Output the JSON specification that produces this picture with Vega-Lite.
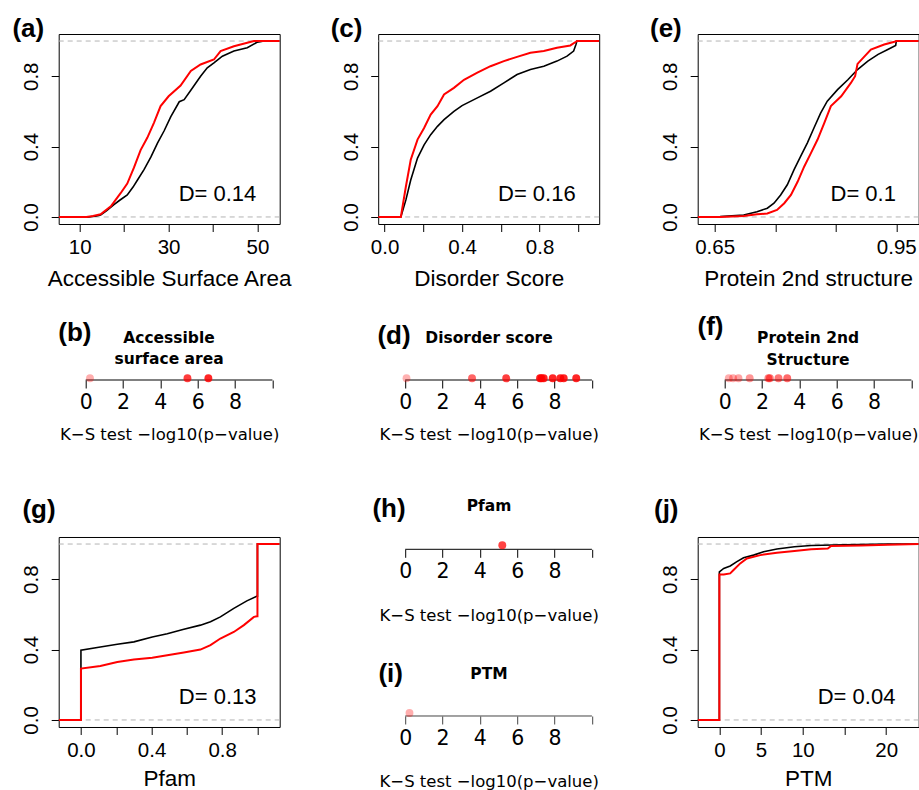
{
  "$schema": "https://vega.github.io/schema/vega-lite/v6.json",
  "background": "white",
  "padding": {"left": 11.7, "top": 15, "right": 0, "bottom": 0},
  "columns": 3,
  "spacing": {"row": 76, "column": 98.5},
  "bounds": "flush",
  "datasets": {
    "cdf_asa": [
      {"set":"background","x":5.27,"F":0},{"set":"background","x":12,"F":0},{"set":"background","x":13.5,"F":0.005},{"set":"background","x":14.7,"F":0.011},{"set":"background","x":16,"F":0.035},{"set":"background","x":17.7,"F":0.07},{"set":"background","x":19,"F":0.095},{"set":"background","x":20.7,"F":0.125},{"set":"background","x":22,"F":0.17},{"set":"background","x":23,"F":0.21},{"set":"background","x":24.5,"F":0.27},{"set":"background","x":26,"F":0.34},{"set":"background","x":27.5,"F":0.42},{"set":"background","x":29,"F":0.49},{"set":"background","x":30.5,"F":0.57},{"set":"background","x":32.4,"F":0.655},{"set":"background","x":33.5,"F":0.667},{"set":"background","x":35,"F":0.72},{"set":"background","x":37.2,"F":0.8},{"set":"background","x":38.7,"F":0.848},{"set":"background","x":40.2,"F":0.876},{"set":"background","x":42.1,"F":0.914},{"set":"background","x":44.7,"F":0.943},{"set":"background","x":47.7,"F":0.962},{"set":"background","x":50,"F":0.994},{"set":"background","x":51.5,"F":1},{"set":"background","x":55,"F":1},
      {"set":"target","x":5.27,"F":0},{"set":"target","x":11.5,"F":0},{"set":"target","x":13,"F":0.005},{"set":"target","x":14.7,"F":0.015},{"set":"target","x":17,"F":0.06},{"set":"target","x":19.2,"F":0.135},{"set":"target","x":20.7,"F":0.19},{"set":"target","x":22.2,"F":0.28},{"set":"target","x":23.7,"F":0.38},{"set":"target","x":25.2,"F":0.45},{"set":"target","x":26.7,"F":0.535},{"set":"target","x":28.2,"F":0.63},{"set":"target","x":30,"F":0.686},{"set":"target","x":32.7,"F":0.747},{"set":"target","x":35,"F":0.83},{"set":"target","x":37.2,"F":0.867},{"set":"target","x":40.2,"F":0.895},{"set":"target","x":41.7,"F":0.943},{"set":"target","x":44.7,"F":0.97},{"set":"target","x":47.7,"F":0.99},{"set":"target","x":49.2,"F":1},{"set":"target","x":55,"F":1}
    ],
    "cdf_dis": [
      {"set":"background","x":-0.033,"F":0},{"set":"background","x":0.084,"F":0},{"set":"background","x":0.11,"F":0.097},{"set":"background","x":0.135,"F":0.21},{"set":"background","x":0.17,"F":0.335},{"set":"background","x":0.204,"F":0.41},{"set":"background","x":0.238,"F":0.468},{"set":"background","x":0.273,"F":0.515},{"set":"background","x":0.307,"F":0.553},{"set":"background","x":0.358,"F":0.6},{"set":"background","x":0.4,"F":0.633},{"set":"background","x":0.479,"F":0.677},{"set":"background","x":0.547,"F":0.715},{"set":"background","x":0.616,"F":0.762},{"set":"background","x":0.684,"F":0.81},{"set":"background","x":0.753,"F":0.838},{"set":"background","x":0.822,"F":0.857},{"set":"background","x":0.89,"F":0.886},{"set":"background","x":0.942,"F":0.914},{"set":"background","x":0.976,"F":0.943},{"set":"background","x":0.988,"F":0.98},{"set":"background","x":0.993,"F":1},{"set":"background","x":1.108,"F":1},
      {"set":"target","x":-0.033,"F":0},{"set":"target","x":0.084,"F":0},{"set":"target","x":0.11,"F":0.173},{"set":"target","x":0.135,"F":0.325},{"set":"target","x":0.17,"F":0.44},{"set":"target","x":0.204,"F":0.506},{"set":"target","x":0.238,"F":0.582},{"set":"target","x":0.273,"F":0.63},{"set":"target","x":0.307,"F":0.696},{"set":"target","x":0.358,"F":0.734},{"set":"target","x":0.41,"F":0.78},{"set":"target","x":0.479,"F":0.82},{"set":"target","x":0.547,"F":0.857},{"set":"target","x":0.616,"F":0.886},{"set":"target","x":0.684,"F":0.91},{"set":"target","x":0.753,"F":0.933},{"set":"target","x":0.822,"F":0.943},{"set":"target","x":0.89,"F":0.962},{"set":"target","x":0.959,"F":0.975},{"set":"target","x":0.988,"F":0.996},{"set":"target","x":0.993,"F":1},{"set":"target","x":1.108,"F":1}
    ],
    "cdf_ss": [
      {"set":"background","x":0.622,"F":0},{"set":"background","x":0.64,"F":0},{"set":"background","x":0.659,"F":0.002},{"set":"background","x":0.698,"F":0.011},{"set":"background","x":0.72,"F":0.03},{"set":"background","x":0.737,"F":0.05},{"set":"background","x":0.748,"F":0.078},{"set":"background","x":0.759,"F":0.125},{"set":"background","x":0.77,"F":0.183},{"set":"background","x":0.781,"F":0.268},{"set":"background","x":0.792,"F":0.344},{"set":"background","x":0.803,"F":0.42},{"set":"background","x":0.814,"F":0.506},{"set":"background","x":0.825,"F":0.59},{"set":"background","x":0.836,"F":0.658},{"set":"background","x":0.853,"F":0.724},{"set":"background","x":0.87,"F":0.78},{"set":"background","x":0.886,"F":0.838},{"set":"background","x":0.903,"F":0.886},{"set":"background","x":0.92,"F":0.924},{"set":"background","x":0.936,"F":0.952},{"set":"background","x":0.949,"F":0.975},{"set":"background","x":0.95,"F":1},{"set":"background","x":0.987,"F":1},
      {"set":"target","x":0.622,"F":0},{"set":"target","x":0.659,"F":0},{"set":"target","x":0.698,"F":0.006},{"set":"target","x":0.72,"F":0.015},{"set":"target","x":0.737,"F":0.02},{"set":"target","x":0.753,"F":0.04},{"set":"target","x":0.765,"F":0.078},{"set":"target","x":0.776,"F":0.125},{"set":"target","x":0.787,"F":0.2},{"set":"target","x":0.798,"F":0.287},{"set":"target","x":0.809,"F":0.363},{"set":"target","x":0.82,"F":0.44},{"set":"target","x":0.831,"F":0.534},{"set":"target","x":0.842,"F":0.63},{"set":"target","x":0.859,"F":0.686},{"set":"target","x":0.875,"F":0.762},{"set":"target","x":0.882,"F":0.8},{"set":"target","x":0.886,"F":0.87},{"set":"target","x":0.908,"F":0.952},{"set":"target","x":0.93,"F":0.98},{"set":"target","x":0.947,"F":0.996},{"set":"target","x":0.95,"F":1},{"set":"target","x":0.987,"F":1}
    ],
    "cdf_pfam": [
      {"set":"background","x":-0.126,"F":0},{"set":"background","x":0,"F":0},{"set":"background","x":0,"F":0.397},{"set":"background","x":0.11,"F":0.415},{"set":"background","x":0.206,"F":0.43},{"set":"background","x":0.3,"F":0.444},{"set":"background","x":0.404,"F":0.472},{"set":"background","x":0.489,"F":0.49},{"set":"background","x":0.583,"F":0.516},{"set":"background","x":0.677,"F":0.539},{"set":"background","x":0.734,"F":0.558},{"set":"background","x":0.79,"F":0.586},{"set":"background","x":0.866,"F":0.634},{"set":"background","x":0.94,"F":0.677},{"set":"background","x":0.998,"F":0.704},{"set":"background","x":1,"F":0.704},{"set":"background","x":1,"F":1},{"set":"background","x":1.126,"F":1},
      {"set":"target","x":-0.126,"F":0},{"set":"target","x":0,"F":0},{"set":"target","x":0,"F":0.292},{"set":"target","x":0.11,"F":0.307},{"set":"target","x":0.206,"F":0.33},{"set":"target","x":0.3,"F":0.343},{"set":"target","x":0.404,"F":0.353},{"set":"target","x":0.489,"F":0.368},{"set":"target","x":0.583,"F":0.383},{"set":"target","x":0.677,"F":0.4},{"set":"target","x":0.734,"F":0.425},{"set":"target","x":0.79,"F":0.463},{"set":"target","x":0.866,"F":0.5},{"set":"target","x":0.923,"F":0.539},{"set":"target","x":0.98,"F":0.586},{"set":"target","x":0.998,"F":0.59},{"set":"target","x":1,"F":0.59},{"set":"target","x":1,"F":1},{"set":"target","x":1.126,"F":1}
    ],
    "cdf_ptm": [
      {"set":"background","x":-2.6,"F":0},{"set":"background","x":0,"F":0},{"set":"background","x":0,"F":0.842},{"set":"background","x":0.52,"F":0.861},{"set":"background","x":1.3,"F":0.875},{"set":"background","x":2.1,"F":0.9},{"set":"background","x":2.9,"F":0.922},{"set":"background","x":4.1,"F":0.937},{"set":"background","x":5.3,"F":0.956},{"set":"background","x":6.9,"F":0.972},{"set":"background","x":9,"F":0.985},{"set":"background","x":11,"F":0.992},{"set":"background","x":15,"F":0.996},{"set":"background","x":20.2,"F":1},{"set":"background","x":23.9,"F":1},
      {"set":"target","x":-2.6,"F":0},{"set":"target","x":0,"F":0},{"set":"target","x":0,"F":0.827},{"set":"target","x":0.52,"F":0.827},{"set":"target","x":1.3,"F":0.833},{"set":"target","x":1.7,"F":0.852},{"set":"target","x":2.5,"F":0.89},{"set":"target","x":3.3,"F":0.918},{"set":"target","x":4.9,"F":0.937},{"set":"target","x":6.9,"F":0.951},{"set":"target","x":9,"F":0.96},{"set":"target","x":11,"F":0.97},{"set":"target","x":13,"F":0.975},{"set":"target","x":13.4,"F":0.989},{"set":"target","x":17,"F":0.992},{"set":"target","x":20.2,"F":0.996},{"set":"target","x":23.9,"F":1}
    ],
    "ks_asa": [{"p":0.23},{"p":5.45},{"p":6.57}],
    "ks_dis": [{"p":0.07},{"p":3.58},{"p":5.41},{"p":7.22},{"p":7.3},{"p":7.42},{"p":7.9},{"p":8.31},{"p":8.49},{"p":9.16}],
    "ks_ss": [{"p":0.22},{"p":0.45},{"p":0.74},{"p":1.34},{"p":2.34},{"p":2.42},{"p":2.88},{"p":3.35}],
    "ks_pfam": [{"p":5.2}],
    "ks_ptm": [{"p":0.23}],
    "hlines": [{"h":0},{"h":1}]
  },
  "concat": [
    {
      "width": 221, "height": 190,
      "title": {"text": "(a)", "dx": -46.3, "offset": -8},
      "layer": [
        {"data": {"name": "hlines"}, "mark": {"type": "rule", "color": "#b3b3b3", "strokeDash": [5, 4], "strokeWidth": 1},
         "encoding": {"y": {"field": "h", "type": "quantitative", "scale": {"domain": [-0.04, 1.04], "nice": false, "zero": false},
           "axis": {"values": [0, 0.2, 0.4, 0.6, 0.8, 1], "format": ".1f", "labelExpr": "indexof([0,0.4,0.8], datum.value) >= 0 ? datum.label : ''", "labelAngle": -90, "labelAlign": "center", "labelBaseline": "alphabetic", "labelPadding": 13.2, "title": null}}}},
        {"data": {"name": "cdf_asa"}, "transform": [{"filter": "datum.set == 'background'"}], "mark": {"type": "line", "color": "black", "strokeWidth": 1.6, "clip": true},
         "encoding": {"x": {"field": "x", "type": "quantitative", "scale": {"domain": [5.27, 55], "nice": false, "zero": false},
           "axis": {"values": [10, 20, 30, 40, 50], "format": "d", "labelExpr": "indexof([10,30,50], datum.value) >= 0 ? datum.label : ''", "title": "Accessible Surface Area", "titleY": 61}},
           "y": {"field": "F", "type": "quantitative"}}},
        {"data": {"name": "cdf_asa"}, "transform": [{"filter": "datum.set == 'target'"}], "mark": {"type": "line", "color": "red", "strokeWidth": 2, "clip": true},
         "encoding": {"x": {"field": "x", "type": "quantitative"}, "y": {"field": "F", "type": "quantitative"}}},
        {"data": {"values": [{}]}, "mark": {"type": "text", "fontSize": 22, "align": "center", "baseline": "middle"},
         "encoding": {"x": {"datum": 41.0}, "y": {"datum": 0.131}, "text": {"value": "D= 0.14"}}}
      ]
    },
    {
      "width": 221, "height": 190,
      "title": {"text": "(c)", "dx": -47.5, "offset": -8},
      "layer": [
        {"data": {"name": "hlines"}, "mark": {"type": "rule", "color": "#b3b3b3", "strokeDash": [5, 4], "strokeWidth": 1},
         "encoding": {"y": {"field": "h", "type": "quantitative", "scale": {"domain": [-0.04, 1.04], "nice": false, "zero": false},
           "axis": {"values": [0, 0.2, 0.4, 0.6, 0.8, 1], "format": ".1f", "labelExpr": "indexof([0,0.4,0.8], datum.value) >= 0 ? datum.label : ''", "labelAngle": -90, "labelAlign": "center", "labelBaseline": "alphabetic", "labelPadding": 13.2, "title": null}}}},
        {"data": {"name": "cdf_dis"}, "transform": [{"filter": "datum.set == 'background'"}], "mark": {"type": "line", "color": "black", "strokeWidth": 1.6, "clip": true},
         "encoding": {"x": {"field": "x", "type": "quantitative", "scale": {"domain": [-0.033, 1.108], "nice": false, "zero": false},
           "axis": {"values": [0, 0.2, 0.4, 0.6, 0.8, 1], "format": ".1f", "labelExpr": "indexof([0,0.4,0.8], datum.value) >= 0 ? datum.label : ''", "title": "Disorder Score", "titleY": 61}},
           "y": {"field": "F", "type": "quantitative"}}},
        {"data": {"name": "cdf_dis"}, "transform": [{"filter": "datum.set == 'target'"}], "mark": {"type": "line", "color": "red", "strokeWidth": 2, "clip": true},
         "encoding": {"x": {"field": "x", "type": "quantitative"}, "y": {"field": "F", "type": "quantitative"}}},
        {"data": {"values": [{}]}, "mark": {"type": "text", "fontSize": 22, "align": "center", "baseline": "middle"},
         "encoding": {"x": {"datum": 0.786}, "y": {"datum": 0.131}, "text": {"value": "D= 0.16"}}}
      ]
    },
    {
      "width": 221, "height": 190,
      "title": {"text": "(e)", "dx": -47.7, "offset": -8},
      "layer": [
        {"data": {"name": "hlines"}, "mark": {"type": "rule", "color": "#b3b3b3", "strokeDash": [5, 4], "strokeWidth": 1},
         "encoding": {"y": {"field": "h", "type": "quantitative", "scale": {"domain": [-0.04, 1.04], "nice": false, "zero": false},
           "axis": {"values": [0, 0.2, 0.4, 0.6, 0.8, 1], "format": ".1f", "labelExpr": "indexof([0,0.4,0.8], datum.value) >= 0 ? datum.label : ''", "labelAngle": -90, "labelAlign": "center", "labelBaseline": "alphabetic", "labelPadding": 13.2, "title": null}}}},
        {"data": {"name": "cdf_ss"}, "transform": [{"filter": "datum.set == 'background'"}], "mark": {"type": "line", "color": "black", "strokeWidth": 1.6, "clip": true},
         "encoding": {"x": {"field": "x", "type": "quantitative", "scale": {"domain": [0.622, 0.987], "nice": false, "zero": false},
           "axis": {"values": [0.65, 0.7, 0.75, 0.8, 0.85, 0.9, 0.95], "format": ".2f", "labelExpr": "indexof([0.65,0.8,0.95], datum.value) >= 0 ? datum.label : ''", "title": "Protein 2nd structure", "titleY": 61}},
           "y": {"field": "F", "type": "quantitative"}}},
        {"data": {"name": "cdf_ss"}, "transform": [{"filter": "datum.set == 'target'"}], "mark": {"type": "line", "color": "red", "strokeWidth": 2, "clip": true},
         "encoding": {"x": {"field": "x", "type": "quantitative"}, "y": {"field": "F", "type": "quantitative"}}},
        {"data": {"values": [{}]}, "mark": {"type": "text", "fontSize": 22, "align": "center", "baseline": "middle"},
         "encoding": {"x": {"datum": 0.8954}, "y": {"datum": 0.131}, "text": {"value": "D= 0.1"}}}
      ]
    },
    {
      "width": 221, "height": 160.7, "view": {"stroke": null},
      "layer": [
        {"data": {"values": [{}]}, "mark": {"type": "rule", "color": "black", "strokeWidth": 1},
         "encoding": {"x": {"datum": 0, "scale": {"domain": [-1.446, 10.39], "nice": false, "zero": false},
           "axis": {"orient": "bottom", "offset": -80.7, "values": [0, 2, 4, 6, 8, 10], "format": "d", "labelExpr": "datum.value <= 8 ? datum.label : ''", "tickSize": 8, "labelPadding": 20.5, "labelBaseline": "alphabetic", "labelFont": "DejaVu Sans", "labelFontSize": 20.5, "title": "K−S test −log10(p−value)", "titleFont": "DejaVu Sans", "titleFontSize": 16.5, "titleY": 55, "titleBaseline": "middle"}},
           "x2": {"datum": 10},
           "y": {"datum": 0, "scale": {"domain": [-80.7, 80], "nice": false, "zero": false}, "axis": null}}},
        {"data": {"name": "ks_asa"}, "mark": {"type": "circle", "color": "red", "size": 62},
         "encoding": {"x": {"field": "p", "type": "quantitative"}, "y": {"datum": 1.7, "axis": null},
           "opacity": {"field": "p", "type": "quantitative", "scale": {"domain": [0, 6.5], "range": [0.3, 0.85], "clamp": true}, "legend": null}}},
        {"data": {"values": [{}]}, "mark": {"type": "text", "font": "Liberation Sans", "fontWeight": "bold", "fontSize": 26, "align": "center", "baseline": "middle"},
         "encoding": {"x": {"datum": -0.578}, "y": {"datum": 46.7, "axis": null}, "text": {"value": "(b)"}}},
        {"data": {"values": [{}]}, "mark": {"type": "text", "font": "DejaVu Sans", "fontWeight": "bold", "fontSize": 15.5, "lineHeight": 21, "align": "center", "baseline": "middle"},
         "encoding": {"x": {"datum": 4.462}, "y": {"datum": 42.2, "axis": null}, "text": {"value": ["Accessible", "surface area"]}}}
      ]
    },
    {
      "width": 221, "height": 160.7, "view": {"stroke": null},
      "layer": [
        {"data": {"values": [{}]}, "mark": {"type": "rule", "color": "black", "strokeWidth": 1},
         "encoding": {"x": {"datum": 0, "scale": {"domain": [-1.446, 10.39], "nice": false, "zero": false},
           "axis": {"orient": "bottom", "offset": -80.7, "values": [0, 2, 4, 6, 8, 10], "format": "d", "labelExpr": "datum.value <= 8 ? datum.label : ''", "tickSize": 8, "labelPadding": 20.5, "labelBaseline": "alphabetic", "labelFont": "DejaVu Sans", "labelFontSize": 20.5, "title": "K−S test −log10(p−value)", "titleFont": "DejaVu Sans", "titleFontSize": 16.5, "titleY": 55, "titleBaseline": "middle"}},
           "x2": {"datum": 10},
           "y": {"datum": 0, "scale": {"domain": [-80.7, 80], "nice": false, "zero": false}, "axis": null}}},
        {"data": {"name": "ks_dis"}, "mark": {"type": "circle", "color": "red", "size": 62},
         "encoding": {"x": {"field": "p", "type": "quantitative"}, "y": {"datum": 1.7, "axis": null},
           "opacity": {"field": "p", "type": "quantitative", "scale": {"domain": [0, 6.5], "range": [0.3, 0.85], "clamp": true}, "legend": null}}},
        {"data": {"values": [{}]}, "mark": {"type": "text", "font": "Liberation Sans", "fontWeight": "bold", "fontSize": 26, "align": "center", "baseline": "middle"},
         "encoding": {"x": {"datum": -0.6}, "y": {"datum": 44, "axis": null}, "text": {"value": "(d)"}}},
        {"data": {"values": [{}]}, "mark": {"type": "text", "font": "DejaVu Sans", "fontWeight": "bold", "fontSize": 15.5, "align": "center", "baseline": "middle"},
         "encoding": {"x": {"datum": 4.489}, "y": {"datum": 41.7, "axis": null}, "text": {"value": "Disorder score"}}}
      ]
    },
    {
      "width": 221, "height": 160.7, "view": {"stroke": null},
      "layer": [
        {"data": {"values": [{}]}, "mark": {"type": "rule", "color": "black", "strokeWidth": 1},
         "encoding": {"x": {"datum": 0, "scale": {"domain": [-1.446, 10.39], "nice": false, "zero": false},
           "axis": {"orient": "bottom", "offset": -80.7, "values": [0, 2, 4, 6, 8, 10], "format": "d", "labelExpr": "datum.value <= 8 ? datum.label : ''", "tickSize": 8, "labelPadding": 20.5, "labelBaseline": "alphabetic", "labelFont": "DejaVu Sans", "labelFontSize": 20.5, "title": "K−S test −log10(p−value)", "titleFont": "DejaVu Sans", "titleFontSize": 16.5, "titleY": 55, "titleBaseline": "middle"}},
           "x2": {"datum": 10},
           "y": {"datum": 0, "scale": {"domain": [-80.7, 80], "nice": false, "zero": false}, "axis": null}}},
        {"data": {"name": "ks_ss"}, "mark": {"type": "circle", "color": "red", "size": 62},
         "encoding": {"x": {"field": "p", "type": "quantitative"}, "y": {"datum": 1.7, "axis": null},
           "opacity": {"field": "p", "type": "quantitative", "scale": {"domain": [0, 6.5], "range": [0.3, 0.85], "clamp": true}, "legend": null}}},
        {"data": {"values": [{}]}, "mark": {"type": "text", "font": "Liberation Sans", "fontWeight": "bold", "fontSize": 26, "align": "center", "baseline": "middle"},
         "encoding": {"x": {"datum": -0.76}, "y": {"datum": 52.7, "axis": null}, "text": {"value": "(f)"}}},
        {"data": {"values": [{}]}, "mark": {"type": "text", "font": "DejaVu Sans", "fontWeight": "bold", "fontSize": 15.5, "lineHeight": 22, "align": "center", "baseline": "middle"},
         "encoding": {"x": {"datum": 4.467}, "y": {"datum": 41.7, "axis": null}, "text": {"value": ["Protein 2nd", "Structure"]}}}
      ]
    },
    {
      "width": 221, "height": 190,
      "title": {"text": "(g)", "dx": -36.3, "offset": 13.7},
      "layer": [
        {"data": {"name": "hlines"}, "mark": {"type": "rule", "color": "#b3b3b3", "strokeDash": [5, 4], "strokeWidth": 1},
         "encoding": {"y": {"field": "h", "type": "quantitative", "scale": {"domain": [-0.04, 1.04], "nice": false, "zero": false},
           "axis": {"values": [0, 0.2, 0.4, 0.6, 0.8, 1], "format": ".1f", "labelExpr": "indexof([0,0.4,0.8], datum.value) >= 0 ? datum.label : ''", "labelAngle": -90, "labelAlign": "center", "labelBaseline": "alphabetic", "labelPadding": 13.2, "title": null}}}},
        {"data": {"name": "cdf_pfam"}, "transform": [{"filter": "datum.set == 'background'"}], "mark": {"type": "line", "color": "black", "strokeWidth": 1.6, "clip": true},
         "encoding": {"x": {"field": "x", "type": "quantitative", "scale": {"domain": [-0.126, 1.126], "nice": false, "zero": false},
           "axis": {"values": [0, 0.2, 0.4, 0.6, 0.8, 1], "format": ".1f", "labelExpr": "indexof([0,0.4,0.8], datum.value) >= 0 ? datum.label : ''", "title": "Pfam", "titleY": 59}},
           "y": {"field": "F", "type": "quantitative"}}},
        {"data": {"name": "cdf_pfam"}, "transform": [{"filter": "datum.set == 'target'"}], "mark": {"type": "line", "color": "red", "strokeWidth": 2, "clip": true},
         "encoding": {"x": {"field": "x", "type": "quantitative"}, "y": {"field": "F", "type": "quantitative"}}},
        {"data": {"values": [{}]}, "mark": {"type": "text", "fontSize": 22, "align": "center", "baseline": "middle"},
         "encoding": {"x": {"datum": 0.7745}, "y": {"datum": 0.131}, "text": {"value": "D= 0.13"}}}
      ]
    },
    {
      "width": 221, "height": 179, "view": {"stroke": null},
      "resolve": {"scale": {"x": "independent"}, "axis": {"x": "independent"}},
      "layer": [
        {"layer": [
          {"data": {"values": [{}]}, "mark": {"type": "rule", "color": "black", "strokeWidth": 1},
           "encoding": {"x": {"datum": 0, "scale": {"domain": [-1.446, 10.39], "nice": false, "zero": false},
             "axis": {"orient": "bottom", "offset": -166.7, "values": [0, 2, 4, 6, 8, 10], "format": "d", "labelExpr": "datum.value <= 8 ? datum.label : ''", "tickSize": 8, "labelPadding": 20.5, "labelBaseline": "alphabetic", "labelFont": "DejaVu Sans", "labelFontSize": 20.5, "title": "K−S test −log10(p−value)", "titleFont": "DejaVu Sans", "titleFontSize": 16.5, "titleY": 66, "titleBaseline": "middle"}},
             "x2": {"datum": 10},
             "y": {"datum": 166.7, "scale": {"domain": [0, 179], "nice": false, "zero": false}, "axis": null}}},
          {"data": {"name": "ks_pfam"}, "mark": {"type": "circle", "color": "red", "size": 62},
           "encoding": {"x": {"field": "p", "type": "quantitative"}, "y": {"datum": 170.7, "axis": null},
             "opacity": {"field": "p", "type": "quantitative", "scale": {"domain": [0, 6.5], "range": [0.3, 0.85], "clamp": true}, "legend": null}}},
          {"data": {"values": [{}]}, "mark": {"type": "text", "font": "Liberation Sans", "fontWeight": "bold", "fontSize": 26, "align": "center", "baseline": "middle"},
           "encoding": {"x": {"datum": -0.868}, "y": {"datum": 207.4, "axis": null}, "text": {"value": "(h)"}}},
          {"data": {"values": [{}]}, "mark": {"type": "text", "font": "DejaVu Sans", "fontWeight": "bold", "fontSize": 15.5, "align": "center", "baseline": "middle"},
           "encoding": {"x": {"datum": 4.489}, "y": {"datum": 209.7, "axis": null}, "text": {"value": "Pfam"}}}
        ]},
        {"layer": [
          {"data": {"values": [{}]}, "mark": {"type": "rule", "color": "#444444", "strokeWidth": 1},
           "encoding": {"x": {"datum": 0, "scale": {"domain": [-1.446, 10.39], "nice": false, "zero": false},
             "axis": {"orient": "bottom", "offset": 0, "values": [0, 2, 4, 6, 8, 10], "format": "d", "labelExpr": "datum.value <= 8 ? datum.label : ''", "tickSize": 8, "tickColor": "#444444", "labelPadding": 20.5, "labelBaseline": "alphabetic", "labelFont": "DejaVu Sans", "labelFontSize": 20.5, "title": "K−S test −log10(p−value)", "titleFont": "DejaVu Sans", "titleFontSize": 16.5, "titleY": 66, "titleBaseline": "middle"}},
             "x2": {"datum": 10},
             "y": {"datum": 0, "axis": null}}},
          {"data": {"name": "ks_ptm"}, "mark": {"type": "circle", "color": "red", "size": 62},
           "encoding": {"x": {"field": "p", "type": "quantitative"}, "y": {"datum": 3, "axis": null},
             "opacity": {"field": "p", "type": "quantitative", "scale": {"domain": [0, 6.5], "range": [0.3, 0.85], "clamp": true}, "legend": null}}},
          {"data": {"values": [{}]}, "mark": {"type": "text", "font": "Liberation Sans", "fontWeight": "bold", "fontSize": 26, "align": "center", "baseline": "middle"},
           "encoding": {"x": {"datum": -0.776}, "y": {"datum": 42.4, "axis": null}, "text": {"value": "(i)"}}},
          {"data": {"values": [{}]}, "mark": {"type": "text", "font": "DejaVu Sans", "fontWeight": "bold", "fontSize": 15.5, "align": "center", "baseline": "middle"},
           "encoding": {"x": {"datum": 4.489}, "y": {"datum": 42.4, "axis": null}, "text": {"value": "PTM"}}}
        ]}
      ]
    },
    {
      "width": 221, "height": 190,
      "title": {"text": "(j)", "dx": -43.7, "offset": 13.7},
      "layer": [
        {"data": {"name": "hlines"}, "mark": {"type": "rule", "color": "#b3b3b3", "strokeDash": [5, 4], "strokeWidth": 1},
         "encoding": {"y": {"field": "h", "type": "quantitative", "scale": {"domain": [-0.04, 1.04], "nice": false, "zero": false},
           "axis": {"values": [0, 0.2, 0.4, 0.6, 0.8, 1], "format": ".1f", "labelExpr": "indexof([0,0.4,0.8], datum.value) >= 0 ? datum.label : ''", "labelAngle": -90, "labelAlign": "center", "labelBaseline": "alphabetic", "labelPadding": 13.2, "title": null}}}},
        {"data": {"name": "cdf_ptm"}, "transform": [{"filter": "datum.set == 'background'"}], "mark": {"type": "line", "color": "black", "strokeWidth": 1.6, "clip": true},
         "encoding": {"x": {"field": "x", "type": "quantitative", "scale": {"domain": [-2.6, 23.9], "nice": false, "zero": false},
           "axis": {"values": [0, 5, 10, 15, 20], "format": "d", "labelExpr": "indexof([0,5,10,20], datum.value) >= 0 ? datum.label : ''", "title": "PTM", "titleY": 59}},
           "y": {"field": "F", "type": "quantitative"}}},
        {"data": {"name": "cdf_ptm"}, "transform": [{"filter": "datum.set == 'target'"}], "mark": {"type": "line", "color": "red", "strokeWidth": 2, "clip": true},
         "encoding": {"x": {"field": "x", "type": "quantitative"}, "y": {"field": "F", "type": "quantitative"}}},
        {"data": {"values": [{}]}, "mark": {"type": "text", "fontSize": 22, "align": "center", "baseline": "middle"},
         "encoding": {"x": {"datum": 16.45}, "y": {"datum": 0.131}, "text": {"value": "D= 0.04"}}}
      ]
    }
  ],
  "config": {
    "font": "Liberation Sans",
    "view": {"stroke": "black", "strokeWidth": 1},
    "axis": {
      "domain": false, "grid": false, "ticks": true, "tickColor": "black", "tickWidth": 1, "tickSize": 7.5,
      "labelFont": "Liberation Sans", "labelFontSize": 20.5, "labelColor": "black",
      "labelFlush": false, "labelOverlap": false, "labelBound": false,
      "titleFont": "Liberation Sans", "titleFontSize": 22.5, "titleFontWeight": "normal", "titleColor": "black"
    },
    "axisX": {"labelBaseline": "alphabetic", "labelPadding": 21.8, "titleBaseline": "alphabetic"},
    "title": {"anchor": "start", "frame": "group", "baseline": "middle", "fontSize": 26, "fontWeight": "bold", "font": "Liberation Sans", "color": "black"},
    "text": {"color": "black", "font": "Liberation Sans"}
  }
}
